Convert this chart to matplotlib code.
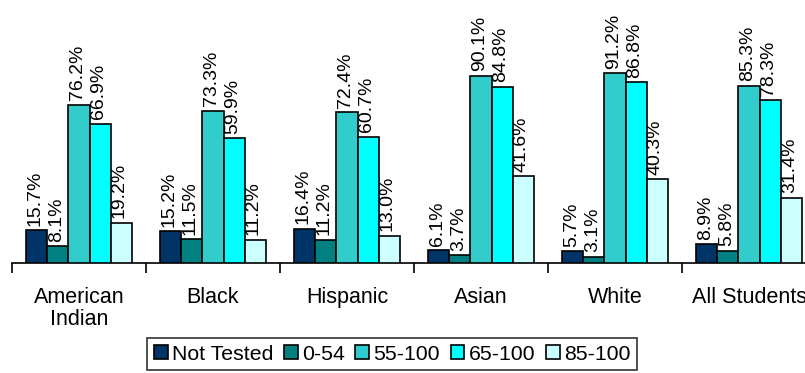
import matplotlib
matplotlib.use("Agg")
import matplotlib.pyplot as plt
import numpy as np

plt.rcParams['font.family'] = ['Liberation Sans', 'DejaVu Sans']

categories = ["American\nIndian", "Black", "Hispanic", "Asian", "White", "All Students"]
series_names = ["Not Tested", "0-54", "55-100", "65-100", "85-100"]
not_tested = [15.7, 15.2, 16.4, 6.1, 5.7, 8.9]
r0_54 = [8.1, 11.5, 11.2, 3.7, 3.1, 5.8]
r55_100 = [76.2, 73.3, 72.4, 90.1, 91.2, 85.3]
r65_100 = [66.9, 59.9, 60.7, 84.8, 86.8, 78.3]
r85_100 = [19.2, 11.2, 13.0, 41.6, 40.3, 31.4]
series = [not_tested, r0_54, r55_100, r65_100, r85_100]
colors = ["#003366", "#008080", "#33CCCC", "#00FFFF", "#CCFFFF"]

W, H = 805, 373
fig = plt.figure(figsize=(W/100, H/100), dpi=100)
left, right, base, top = 12, 816, 263, 55
ax = fig.add_axes([left/W, (H-base)/H, (right-left)/W, (base-top)/H])

x = np.arange(len(categories))
bw = 0.157
for i, (vals, c, name) in enumerate(zip(series, colors, series_names)):
    pos = x + (i - 2) * bw
    ax.bar(pos, vals, bw, color=c, edgecolor="black", linewidth=1.2, label=name, zorder=3)
    for p, v in zip(pos, vals):
        ax.text(p - 0.012, v + 2.2, f"{v:.1f}%", rotation=90, ha="center", va="bottom",
                fontsize=14, clip_on=False)

ax.set_xlim(-0.5, len(categories) - 0.5)
ax.set_ylim(0, 100)
for s in ["top", "right", "left"]:
    ax.spines[s].set_visible(False)
ax.spines["bottom"].set_linewidth(1.2)
ax.set_yticks([])
ax.set_xticks(x)
ax.set_xticklabels(categories, fontsize=15.5, linespacing=1.1)
ax.tick_params(axis="x", which="major", length=0, pad=17)
ax.set_xticks(np.arange(-0.5, len(categories)), minor=True)
ax.tick_params(axis="x", which="minor", length=7, width=1.2, direction="out")

leg = fig.legend(loc="center", bbox_to_anchor=(392/W, 1 - 354/H), ncol=5, fontsize=15.3,
                 frameon=True, fancybox=False, edgecolor="black", handlelength=0.65,
                 handleheight=0.65, handletextpad=0.2, columnspacing=0.5,
                 borderpad=0.3, borderaxespad=0)
leg.get_frame().set_linewidth(1.2)

fig.savefig("out.png", dpi=100)
